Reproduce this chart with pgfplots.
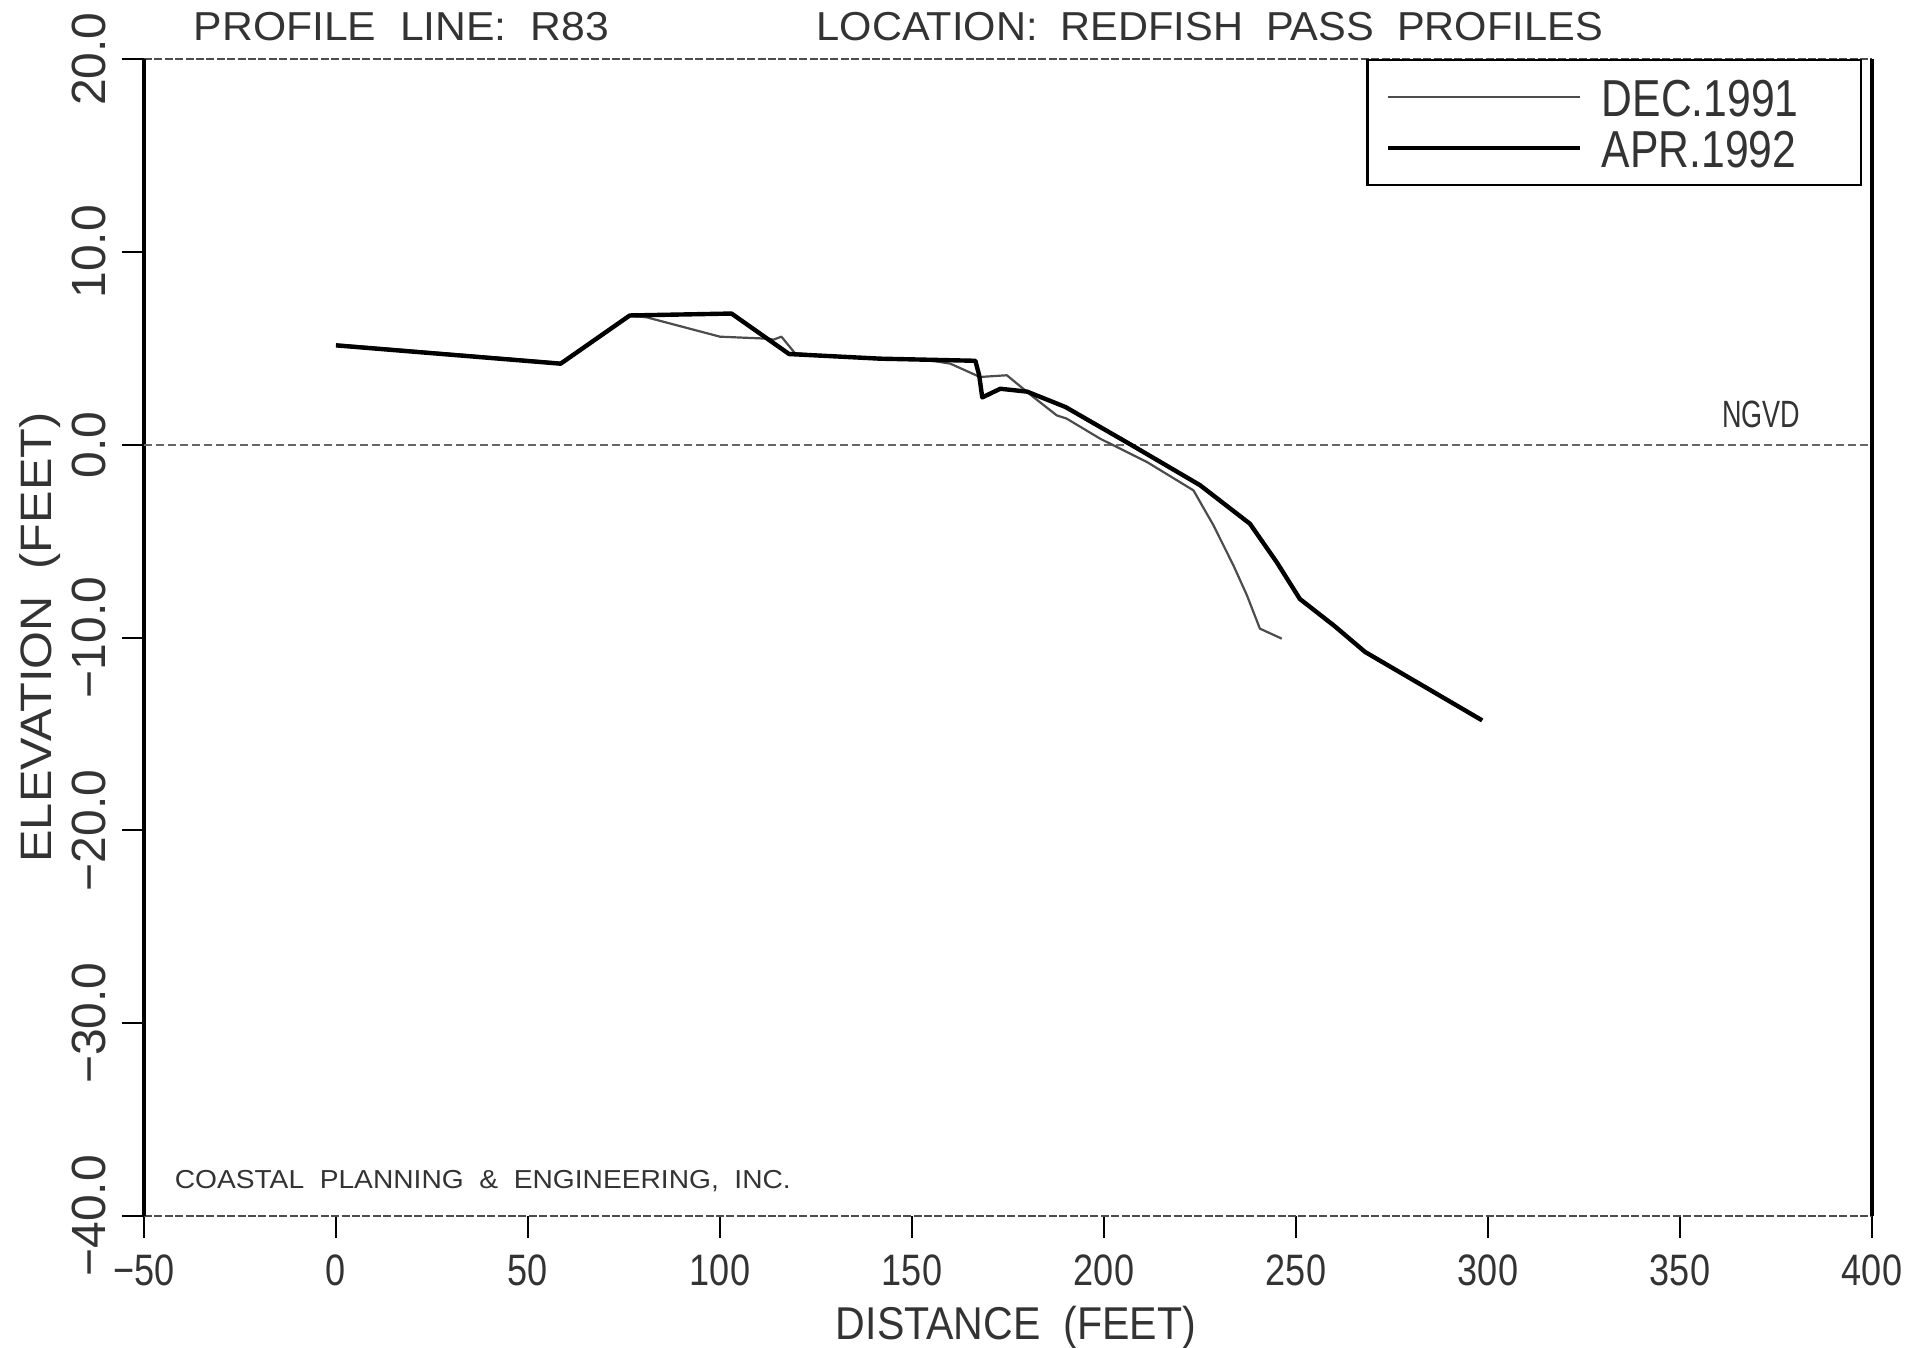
\documentclass[border=0pt]{standalone}
\usepackage{fontspec}
\setmainfont{Liberation Sans}
\newfontfamily\nf{Liberation Sans}[FakeStretch=0.82]
\usepackage{graphicx}
\usepackage{pgfplots}
\pgfplotsset{compat=1.18}
\newcommand{\fw}[2]{\resizebox{#1}{\height}{#2}}
\begin{document}
\begin{tikzpicture}
\useasboundingbox (-36pt,-33pt) rectangle (447pt,304pt);
\begin{axis}[
  at={(0pt,0pt)}, anchor=south west,
  scale only axis, width=432pt, height=289.25pt,
  xmin=-50, xmax=400, ymin=-40, ymax=20,
  xtick={-50,0,...,400},
  xticklabels={−50,0,50,100,150,200,250,300,350,400},
  ytick={-40,-30,...,20},
  yticklabels={−40.0,−30.0,−20.0,−10.0,0.0,10.0,20.0},
  tick align=outside, tick pos=left, major tick length=5.5pt,
  tick style={black, line width=0.5pt},
  xticklabel style={anchor=base, font=\nf\fontsize{11}{13}\selectfont, text=black!80},
  xticklabel shift=12pt,
  yticklabel style={rotate=90, anchor=base, font=\fontsize{12}{14}\selectfont, text=black!80},
  yticklabel shift=4pt,
  separate axis lines,
  every outer x axis line/.append style={line width=0.6pt, black!70, dash pattern=on 2pt off 0.6pt},
  every outer y axis line/.append style={line width=0.9pt, black},
  clip=false,
  xlabel={\fw{90pt}{DISTANCE\ \ (FEET)}},
  xlabel style={at={([xshift=2pt,yshift=-31pt]axis description cs:0.5,0)}, anchor=base, font=\fontsize{11.5}{13}\selectfont, text=black!80},
  ylabel={\fw{112.5pt}{ELEVATION\ \ (FEET)}},
  ylabel style={at={([xshift=-23pt]axis description cs:0,0.5)}, anchor=base, font=\fontsize{11}{13}\selectfont, text=black!80},
  legend style={at={(rel axis cs:0.99421,1)}, anchor=north east, draw=black, line width=0.6pt,
    fill=white, inner xsep=4.5pt, inner ysep=4.55pt, row sep=3.35pt, column sep=5pt,
    font=\nf\fontsize{13}{15}\selectfont, text=black!80,
    nodes={inner sep=0pt, text height=9.4pt, text depth=0pt, text width=60.25pt, align=left}},
  legend cell align=left,
  legend image code/.code={\draw[#1] (0pt,0pt) -- (48pt,0pt);},
]
\addplot[black!60, line width=0.5pt, dash pattern=on 2pt off 1pt, forget plot] coordinates {(-50,0) (400,0)};
\addplot[black!70, line width=0.55pt, line join=round] coordinates {
(0,5.2) (58.5,4.25) (76.5,6.7) (81,6.6) (100,5.6) (112,5.5) (114,5.45) (116,5.6) (119.5,4.75)
(128.6,4.6) (154.7,4.37) (160,4.2) (167.7,3.51) (174.7,3.6) (181.6,2.47) (187.7,1.52) (190.3,1.35)
(199,0.31) (211.2,-0.9) (223.3,-2.37) (228.5,-4.18) (233.7,-6.26) (237.2,-7.8) (240.6,-9.54) (246.3,-10.06)
};
\addlegendentry{DEC.1991}
\addplot[black, line width=1.1pt, line join=round] coordinates {
(0,5.15) (58.5,4.2) (76.5,6.7) (103,6.8) (118,4.7) (141.7,4.46) (166.5,4.35) (167.5,3.6) (168.3,2.45)
(173,2.9) (180,2.75) (190,1.95) (207,0) (225,-2.1) (238,-4.1) (245,-6.1) (251,-8.0) (260,-9.4)
(268,-10.75) (298.5,-14.3)
};
\addlegendentry{APR.1992}
\node[anchor=base west, inner sep=0pt, font=\fontsize{10.1}{12}\selectfont, text=black!80]
  at ([xshift=12.25pt,yshift=4.75pt]rel axis cs:0,1) {\fw{103.75pt}{PROFILE\ \ LINE:\ \ R83}};
\node[anchor=base west, inner sep=0pt, font=\fontsize{10.1}{12}\selectfont, text=black!80]
  at ([xshift=168pt,yshift=4.75pt]rel axis cs:0,1) {\fw{196.5pt}{LOCATION:\ \ REDFISH\ \ PASS\ \ PROFILES}};
\node[anchor=base west, inner sep=0pt, font=\fontsize{6.5}{8}\selectfont, text=black!80]
  at ([xshift=7.5pt,yshift=6.75pt]rel axis cs:0,0) {\fw{154pt}{COASTAL\ \ PLANNING\ \ \&\ \ ENGINEERING,\ \ INC.}};
\node[anchor=base east, inner sep=0pt, font=\fontsize{9.5}{11}\selectfont, text=black!80]
  at ([yshift=4.25pt]axis cs:381.5,0) {\fw{19.5pt}{NGVD}};
\end{axis}
\end{tikzpicture}
\end{document}
